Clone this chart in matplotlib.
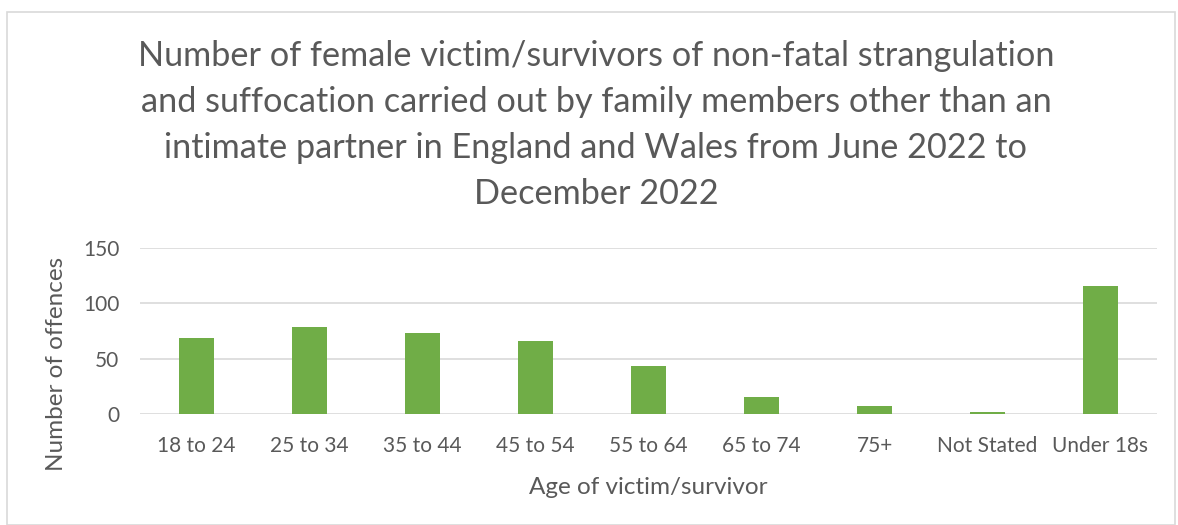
import matplotlib.pyplot as plt
from matplotlib.patches import Rectangle

age_groups = ["18 to 24", "25 to 34", "35 to 44", "45 to 54", "55 to 64",
              "65 to 74", "75+", "Not Stated", "Under 18s"]
offences = [69, 79, 73, 66, 43, 15, 7, 2, 116]
y_ticks = [0, 50, 100, 150]

title = ("Number of female victim/survivors of non-fatal strangulation\n"
         "and suffocation carried out by family members other than an\n"
         "intimate partner in England and Wales from June 2022 to\n"
         "December 2022")

text_color = "#595959"
grid_color = "#d9d9d9"
bar_color = "#70ad47"

plt.rcParams["font.family"] = ["Lato", "DejaVu Sans"]

W, H = 1178, 525
fig = plt.figure(figsize=(W / 100, H / 100), dpi=100)

# chart frame
fig.patches.append(Rectangle((7 / W, 0), (1175 - 7) / W, (H - 12) / H,
                             transform=fig.transFigure, fill=False,
                             edgecolor=grid_color, linewidth=1.2))

ax = fig.add_axes([140 / W, (H - 414) / H, (1157 - 140) / W, (414 - 248) / H])
x = range(len(age_groups))
ax.bar(x, offences, width=0.31, color=bar_color, zorder=3)

ax.set_xlim(-0.5, len(age_groups) - 0.5)
ax.set_ylim(0, 150)
ax.set_yticks(y_ticks)
ax.set_xticks(list(x))
ax.set_xticklabels(age_groups)
ax.tick_params(axis="both", length=0, labelsize=15, colors=text_color)
ax.tick_params(axis="y", pad=15)
ax.tick_params(axis="x", pad=16)
ax.grid(axis="y", color=grid_color, linewidth=1.2, zorder=0)
for s in ax.spines.values():
    s.set_visible(False)

ax.set_xlabel("Age of victim/survivor", fontsize=17.5, color=text_color, labelpad=15)
ax.set_ylabel("Number of offences", fontsize=17.5, color=text_color)
# label sits lower than the axes centre in the original
ax.yaxis.set_label_coords(-0.072, 0.30)

fig.text(596 / W, 1 - 125 / H, title, ha="center", va="center", fontsize=24.7,
         color=text_color, linespacing=1.53)

fig.savefig("out.png", dpi=100)
